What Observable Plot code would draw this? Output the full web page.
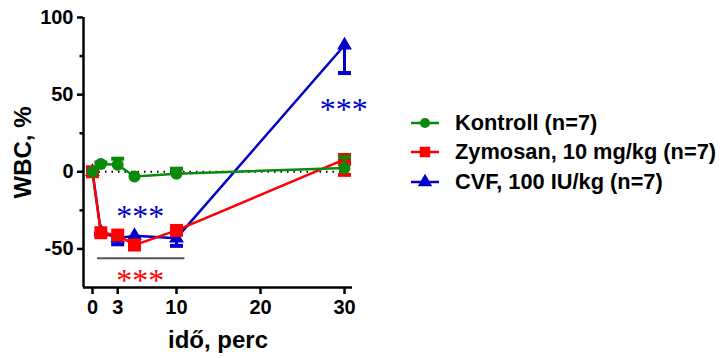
<!DOCTYPE html>
<html>
<head>
<meta charset="utf-8">
<script src="https://cdn.jsdelivr.net/npm/d3@7"></script>
<script src="https://cdn.jsdelivr.net/npm/@observablehq/plot@0.6"></script>
<style>
  html, body { margin: 0; padding: 0; background: #fff; }
  #wrap { position: relative; width: 724px; height: 358px; font-family: "Liberation Sans", Arial, sans-serif; }
  #chart { position: absolute; left: 0; top: 0; }
  #legend { position: absolute; left: 409px; top: 108px; }
  .row { display: flex; align-items: center; height: 29.5px; font-weight: bold; font-size: 21.8px; color: #000; white-space: nowrap; }
  .row svg { margin-right: 14px; }
</style>
</head>
<body>
<div id="wrap"><div id="chart"></div><div id="legend"></div></div>
<script>
// ---- data ----
const time = [0, 1, 3, 5, 10, 30];
const seriesNames = ["Kontroll (n=7)", "Zymosan, 10 mg/kg (n=7)", "CVF, 100 IU/kg (n=7)"];
const kontroll = [0, 5, 4.5, -3, -1.3, 2.5];
const kontrollErr = [0, 6, 8.5, -3, 2, 9.5];       // error bar end (one-sided)
const zymosan = [0, -39.5, -41, -47.5, -38, 8];
const zymosanErr = [0, -41, -43, -49, -39, -2];
const cvf = [0, -39, -43, -41.5, -43, 82];
const cvfErr = [0, -40, -47, -43, -48, 64];
const xTicks = [0, 3, 10, 20, 30];
const yTicks = [100, 50, 0, -50];
const yMinor = [75, 25, -25];
const starX = [5.7, 29.9, 5.7];
const starY = [-27.5, 42, -69];
const starColor = ["#0000c8", "#0000c8", "#ff0000"];
const sigLine = {x1: 0.6, x2: 11, y: -56};

const colors = ["#0a8a0a", "#ff0000", "#0000c8"];
const symbols = ["circle", "square", "triangle"];

function rows(vals, errs, s) {
  return time.map((t, i) => ({t, v: vals[i], e: errs[i], s}));
}
const K = rows(kontroll, kontrollErr, 0);
const Z = rows(zymosan, zymosanErr, 1);
const C = rows(cvf, cvfErr, 2);

const capSymbol = {
  draw(ctx) { const w = 6.5, h = 2; ctx.moveTo(-w, -h); ctx.lineTo(w, -h); ctx.lineTo(w, h); ctx.lineTo(-w, h); ctx.closePath(); }
};

function seriesMarks(data, s, r) {
  const c = colors[s];
  return [
    Plot.ruleX(data.filter(d => d.e !== d.v), {x: "t", y1: "v", y2: "e", stroke: c, strokeWidth: 3}),
    Plot.dot(data.filter(d => d.e !== d.v), {x: "t", y: "e", symbol: capSymbol, fill: c, stroke: "none", r: 1}),
    Plot.line(data, {x: "t", y: "v", stroke: c, strokeWidth: 2.5}),
    Plot.dot(data, {x: "t", y: "v", symbol: symbols[s], fill: c, stroke: "none", r})
  ];
}

const xMin = -1.07, xMax = 30.95, yMin = -75, yMax = 100;

const chart = Plot.plot({
  width: 380,
  height: 358,
  marginLeft: 83,
  marginRight: 28,
  marginTop: 17,
  marginBottom: 71,
  style: {fontFamily: "Liberation Sans, Arial, sans-serif", fontWeight: "bold", color: "#000", background: "#fff"},
  x: {domain: [xMin, xMax]},
  y: {domain: [yMin, yMax]},
  marks: [
    Plot.axisX({ticks: xTicks, tickSize: 7, tickPadding: 5, fontSize: 20, strokeWidth: 2.5, tickFormat: d => String(d),
      label: "idő, perc", labelAnchor: "center", labelArrow: "none", labelOffset: 60}),
    Plot.axisY({ticks: yTicks, tickSize: 6, tickPadding: 4, fontSize: 20, strokeWidth: 2.5, tickFormat: d => String(d),
      label: "WBC, %", labelAnchor: "center", labelArrow: "none", labelOffset: 70}),
    Plot.axisY({ticks: yMinor, tickSize: 3.5, tickFormat: () => "", strokeWidth: 2.5, label: null}),
    Plot.ruleX([xMin], {strokeWidth: 2.5, stroke: "#000"}),
    Plot.ruleY([yMin], {strokeWidth: 2.5, stroke: "#000"}),
    Plot.ruleY([0], {x1: 0, x2: 30, stroke: "#000", strokeWidth: 2, strokeDasharray: "1.5,5"}),
    Plot.ruleY([sigLine], {x1: "x1", x2: "x2", y: "y", stroke: "#555", strokeWidth: 2}),
    ...seriesMarks(C, 2, 5.5),
    ...seriesMarks(Z, 1, 7.3),
    ...seriesMarks(K, 0, 6),
    Plot.text(starX.map((x, i) => ({x, y: starY[i], c: starColor[i]})), {
      x: "x", y: "y", text: () => "***", fill: "c", fontSize: 32, fontWeight: "normal",
      fontFamily: "Liberation Serif, serif", dy: 3, letterSpacing: 2
    })
  ]
});
chart.querySelectorAll("[aria-label='x-axis label'] text, [aria-label='y-axis label'] text").forEach(t => t.setAttribute("font-size", 24));
document.getElementById("chart").appendChild(chart);

// legend
const leg = document.getElementById("legend");
seriesNames.forEach((name, i) => {
  const row = document.createElement("div");
  row.className = "row";
  const ns = "http://www.w3.org/2000/svg";
  const svg = document.createElementNS(ns, "svg");
  svg.setAttribute("width", 32); svg.setAttribute("height", 16);
  const g = d3.select(svg);
  g.append("line").attr("x1", 2).attr("x2", 30).attr("y1", 8).attr("y2", 8).attr("stroke", colors[i]).attr("stroke-width", 2.5);
  const sym = [d3.symbolCircle, d3.symbolSquare, d3.symbolTriangle][i];
  g.append("path").attr("d", d3.symbol(sym, [80, 110, 90][i])()).attr("transform", "translate(16,8)").attr("fill", colors[i]);
  row.appendChild(svg);
  const span = document.createElement("span");
  span.textContent = name;
  row.appendChild(span);
  leg.appendChild(row);
});
</script>
</body>
</html>
